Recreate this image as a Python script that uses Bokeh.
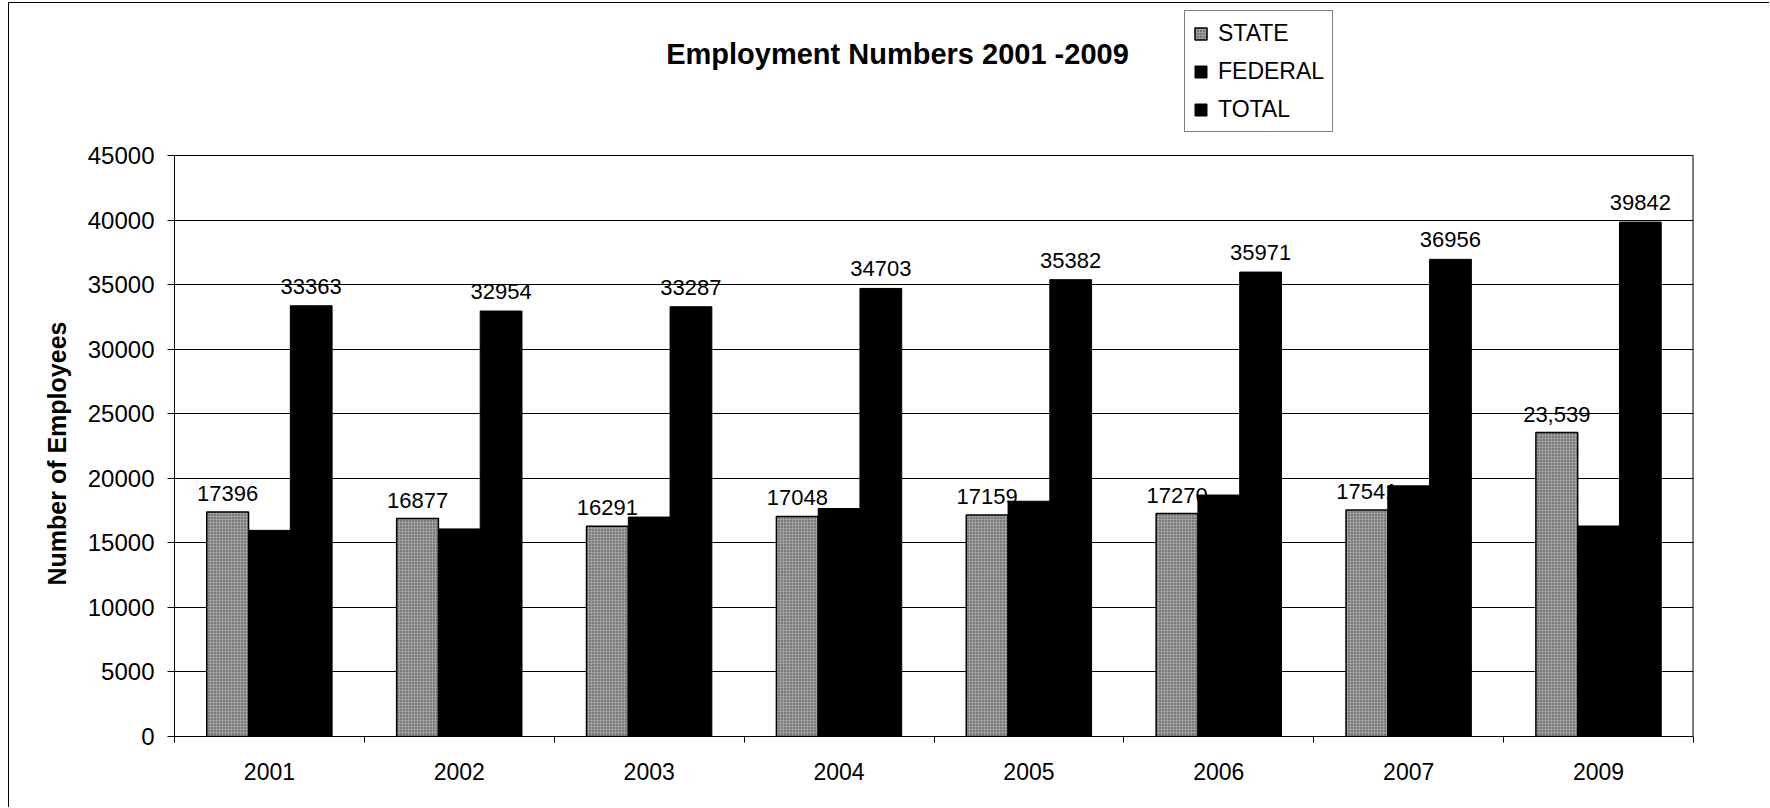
from bokeh.plotting import figure
from bokeh.models import (ColumnDataSource, FixedTicker, Legend, LegendItem, Label, Range1d, Title)
from bokeh.core.properties import value
from bokeh.embed import file_html
from bokeh.resources import INLINE

years = ["2001", "2002", "2003", "2004", "2005", "2006", "2007", "2009"]
state = [17396, 16877, 16291, 17048, 17159, 17270, 17541, 23539]
federal = [15967, 16077, 16996, 17655, 18223, 18701, 19415, 16303]
total = [33363, 32954, 33287, 34703, 35382, 35971, 36956, 39842]
state_labels = ["17396", "16877", "16291", "17048", "17159", "17270", "17541", "23,539"]
total_labels = ["33363", "32954", "33287", "34703", "35382", "35971", "36956", "39842"]
y_ticks = [0, 5000, 10000, 15000, 20000, 25000, 30000, 35000, 40000, 45000]
y_max = 45000

FONT = "Liberation Sans"
BW = 0.22

centers = [i + 0.5 for i in range(len(years))]
src = ColumnDataSource(dict(
    xs=[c - BW for c in centers],
    xf=centers,
    xt=[c + BW for c in centers],
    state=state, federal=federal, total=total,
    sl=state_labels, tl=total_labels,
))

# page geometry (page pixels); the canvas starts after an outer chart border
OX, OY = 9, 3
W, H = 1770 - OX, 808 - OY
PL, PR, PT, PB = 174, 1693, 155, 736          # plot-area box on the page
FL, FR, FB = PL - OX, PR - OX, PB - OY        # frame on the canvas (top = 0)
y_end = y_max * FB / (PB - PT)

p = figure(width=W, height=H, output_backend="svg", toolbar_location=None,
           x_range=Range1d(0, len(years)), y_range=Range1d(0, y_end),
           min_border_left=FL, min_border_right=W - FR,
           min_border_top=0, min_border_bottom=H - FB)
p.styles = {"margin-left": f"{OX - 1}px", "margin-top": f"{OY - 1}px",
            "border-left": "1px solid black", "border-top": "1px solid black"}
p.background_fill_color = "white"
p.border_fill_color = "white"
p.outline_line_color = None

# grid
p.xgrid.grid_line_color = None
p.ygrid.ticker = FixedTicker(ticks=y_ticks)
p.ygrid.grid_line_color = "black"
p.ygrid.grid_line_width = 1

# y axis
p.yaxis.ticker = FixedTicker(ticks=y_ticks)
p.yaxis.bounds = (0, y_max)
p.yaxis.major_label_text_font = FONT
p.yaxis.major_label_text_font_size = "24px"
p.yaxis.major_label_text_color = "black"
p.yaxis.major_tick_out = 7
p.yaxis.major_tick_in = 0
p.yaxis.minor_tick_out = 0
p.yaxis.minor_tick_in = 0
p.yaxis.major_label_standoff = 13
p.yaxis.axis_line_color = "black"
p.yaxis.major_tick_line_color = "black"

# y axis title, starting above the frame bottom so it is centred on the plot area
p.add_layout(Title(text="Number of Employees", align="left", offset=151,
                   text_font=FONT, text_font_style="bold", text_font_size="25px",
                   text_color="black", standoff=27), "left")

# x axis: labels at centers, tick marks at category boundaries
p.xaxis.ticker = FixedTicker(ticks=centers, minor_ticks=list(range(len(years) + 1)))
p.xaxis.major_label_overrides = {c: y for c, y in zip(centers, years)}
p.xaxis.major_tick_out = 0
p.xaxis.major_tick_in = 0
p.xaxis.minor_tick_out = 6
p.xaxis.minor_tick_in = 0
p.xaxis.minor_tick_line_color = "black"
p.xaxis.major_label_standoff = 20
p.xaxis.major_label_text_font = FONT
p.xaxis.major_label_text_font_size = "23px"
p.xaxis.major_label_text_color = "black"
p.xaxis.axis_line_color = "black"

# right edge of the plot area
p.segment(x0=[len(years)], y0=[0], x1=[len(years)], y1=[y_max],
          line_color="black", line_width=2)

# bars and labels (state labels sit beneath the federal bars)
r_state = p.vbar(x="xs", top="state", width=BW, source=src,
                 fill_color="#a0a0a0", line_color="black", line_width=1.5,
                 hatch_pattern="dot", hatch_color="#3a3a3a", hatch_scale=3, hatch_weight=1)
p.text(x="xs", y="state", text="sl", source=src, text_align="center",
       text_baseline="bottom", y_offset=-11, text_font=value(FONT),
       text_font_size="22px", text_color="black")
r_fed = p.vbar(x="xf", top="federal", width=BW, source=src,
               fill_color="black", line_color="black")
r_tot = p.vbar(x="xt", top="total", width=BW, source=src,
               fill_color="black", line_color="black")
p.text(x="xt", y="total", text="tl", source=src, text_align="center",
       text_baseline="bottom", y_offset=-12, text_font=value(FONT),
       text_font_size="22px", text_color="black")

# title (frame-relative screen units)
p.add_layout(Label(x=897 - PL, y=PB - 53, x_units="screen", y_units="screen",
                   text="Employment Numbers 2001 -2009", text_align="center",
                   text_baseline="middle", text_font=FONT, text_font_style="bold",
                   text_font_size="29px", text_color="black"))

# legend
legend = Legend(items=[LegendItem(label="STATE", renderers=[r_state]),
                       LegendItem(label="FEDERAL", renderers=[r_fed]),
                       LegendItem(label="TOTAL", renderers=[r_tot])],
                location=(1184 - PL, PB - 132), orientation="vertical",
                border_line_color="black", border_line_width=1,
                background_fill_color="white", background_fill_alpha=1,
                label_text_font=FONT, label_text_font_size="23px",
                label_text_color="black",
                glyph_width=15, glyph_height=15, label_standoff=10,
                label_height=28, spacing=10, padding=8, margin=0)
p.add_layout(legend, "center")

open("out.html", "w").write(file_html(p, INLINE))
